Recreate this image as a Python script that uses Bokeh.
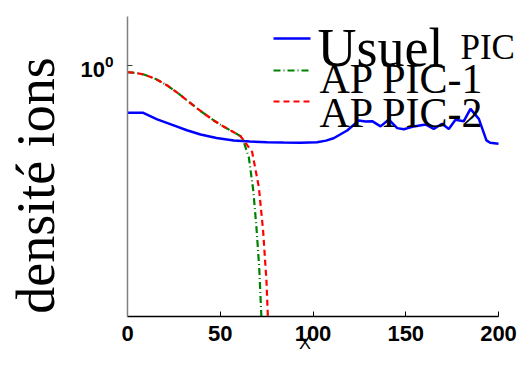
import math
from bokeh.plotting import figure
from bokeh.models import Label, Arrow, FixedTicker, Range1d
from bokeh.embed import file_html
from bokeh.resources import INLINE

# --- data ---
x_usuel = [0, 8.5, 16.0, 24.9, 32.0, 39.4, 48.0, 57.3, 66.0, 75.3, 84.0, 93.3, 102.2, 107.0,
           111.1, 118.4, 124.7, 128.3, 131.9, 136.4, 140.9, 145.4, 149.0, 154.4, 160.6,
           165.1, 169.6, 173.2, 176.8, 181.3, 184.9, 189.4, 193.5, 195.5, 200]
n_usuel = [0.648, 0.648, 0.610, 0.577, 0.552, 0.531, 0.514, 0.503, 0.498, 0.495, 0.493, 0.492,
           0.495, 0.502, 0.513, 0.551, 0.604, 0.598, 0.600, 0.572, 0.609, 0.563, 0.557,
           0.572, 0.582, 0.559, 0.586, 0.559, 0.608, 0.600, 0.672, 0.613, 0.503, 0.492, 0.488]

x_ap1 = [0, 4.0, 8.8, 15.0, 21.4, 27.0, 32.2, 39.0, 46.5, 52.0, 57.3, 60.9,
         61.8, 65.4, 67.8, 69.5, 71.0, 72.1, 72.6]
n_ap1 = [0.940, 0.935, 0.921, 0.885, 0.833, 0.778, 0.725, 0.662, 0.604, 0.570, 0.542, 0.523,
         0.518, 0.431, 0.318, 0.227, 0.157, 0.103, 0.080]

x_ap2 = [0, 4.0, 8.8, 15.0, 21.4, 27.0, 32.2, 39.0, 46.5, 52.0, 57.3, 60.9,
         62.7, 67.2, 70.8, 73.1, 74.9, 75.6, 76.0]
n_ap2 = [0.940, 0.935, 0.921, 0.885, 0.833, 0.778, 0.725, 0.662, 0.604, 0.570, 0.542, 0.523,
         0.503, 0.452, 0.328, 0.220, 0.139, 0.103, 0.080]

x_ticks = [0, 50, 100, 150, 200]
y_ticks = [1.0]
x_lim = (0, 200)
y_lim = (0.1, 1.57)

# frame extended to the right and top edges so the legend text is not clipped;
# the axis lines are limited to the data limits with `bounds`
PX_PER_X = 1.855
PX_PER_DECADE = 251.0
x_end = x_lim[1] + 19 / PX_PER_X
y_end = 10 ** (65 / PX_PER_DECADE)

p = figure(width=517, height=360, x_range=Range1d(x_lim[0], x_end), y_range=Range1d(y_lim[0], y_end),
           y_axis_type="log", output_backend="svg", toolbar_location=None,
           min_border_left=127, min_border_right=0, min_border_top=0, min_border_bottom=44)

p.line(x_usuel, n_usuel, line_color="#0000ff", line_width=2.5)
p.line(x_ap1, n_ap1, line_color="#008000", line_width=2.2, line_dash="7 3 1 3")
p.line(x_ap2, n_ap2, line_color="#ff0000", line_width=2.2, line_dash="6 4")

p.grid.visible = False
p.outline_line_color = None
p.background_fill_color = "white"
p.border_fill_color = "white"

for ax, ticks in ((p.xaxis, x_ticks), (p.yaxis, y_ticks)):
    ax.ticker = FixedTicker(ticks=ticks)
    ax.major_tick_in = 5
    ax.major_tick_out = 0
    ax.minor_tick_in = 0
    ax.minor_tick_out = 0
    ax.major_label_text_font = "Liberation Sans"
    ax.major_label_text_font_style = "bold"
    ax.major_label_text_font_size = "22px"
    ax.major_label_text_color = "black"
    ax.axis_label_text_color = "black"

p.xaxis.bounds = x_lim
p.yaxis.bounds = y_lim

p.xaxis.axis_line_color = "black"
p.xaxis.axis_line_width = 1.5
p.xaxis.major_tick_line_color = "black"
p.xaxis.major_label_standoff = 9
p.xaxis.axis_label = "X" + "\u00a0" * 7
p.xaxis.axis_label_text_font = "Liberation Sans"
p.xaxis.axis_label_text_font_style = "normal"
p.xaxis.axis_label_text_font_size = "18px"
p.xaxis.axis_label_standoff = -11

p.yaxis.axis_line_color = "#808080"
p.yaxis.axis_line_width = 1.5
p.yaxis.major_tick_line_color = "#404040"
p.yaxis.major_label_standoff = 14
p.yaxis.axis_label = "densité ions" + "\u00a0" * 4
p.yaxis.axis_label_text_font = "Liberation Serif"
p.yaxis.axis_label_text_font_style = "normal"
p.yaxis.axis_label_text_font_size = "54px"
p.yaxis.axis_label_standoff = 11


def xd(px):
    return (px - 127) / PX_PER_X


def yd(py):
    return 10 ** (-(py - 65) / PX_PER_DECADE)


def lab(px, py, text, size):
    p.add_layout(Label(x=xd(px), y=yd(py), text=text, text_font="Liberation Serif",
                       text_font_size=size, text_baseline="alphabetic",
                       text_color="black", level="overlay"))


# legend
for py, col, dash in ((38, "#0000ff", "solid"), (70, "#008000", "7 3 1 3"), (101, "#ff0000", "6 4")):
    p.add_layout(Arrow(end=None, x_start=xd(273), x_end=xd(310), y_start=yd(py), y_end=yd(py),
                       line_color=col, line_width=2.5 if dash == "solid" else 2.2,
                       line_dash=dash, level="overlay"))

lab(317, 47, "Usuel", "54px")
lab(460, 47, "PIC", "35px")
lab(319, 78, "AP PIC-1", "42px")
lab(319, 112, "AP PIC-2", "42px")

open("out.html", "w").write(file_html(p, INLINE))
